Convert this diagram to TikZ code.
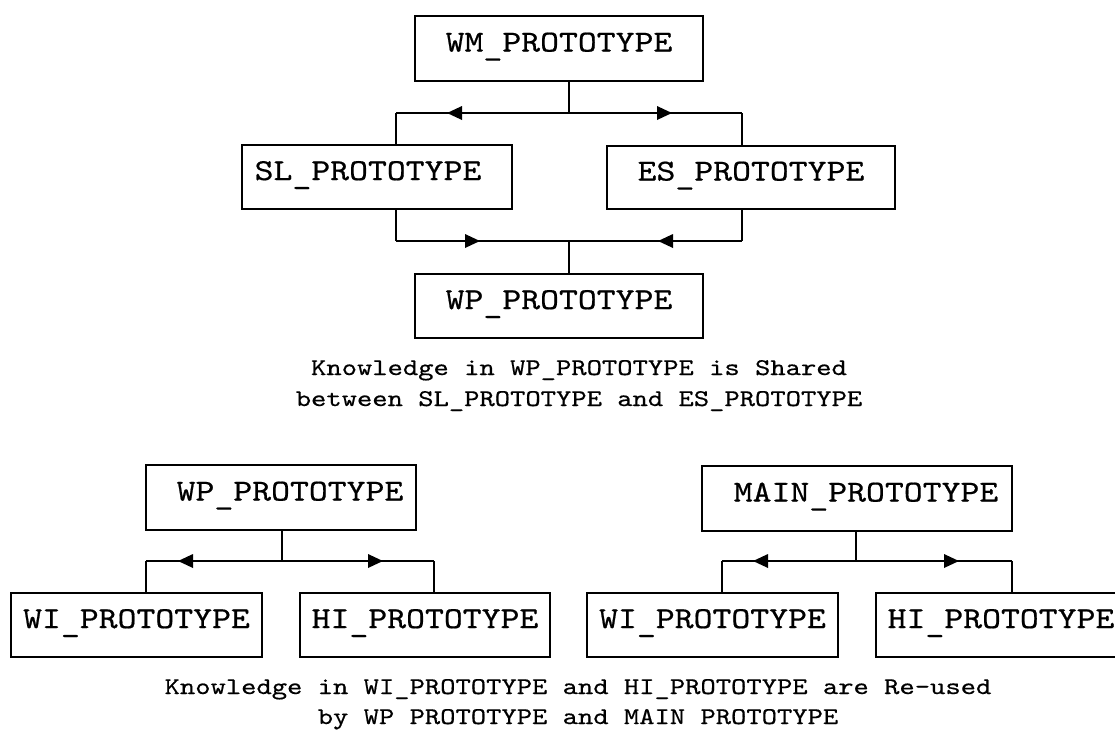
\documentclass[tikz,border=0pt]{standalone}
\usepackage{fontspec}
\newfontfamily\boxfont[FakeStretch=1.18,FakeBold=0.6]{lmmono10-regular.otf}
\newfontfamily\notefont[FakeStretch=1.215,FakeBold=0.5]{lmmono10-regular.otf}
% underscore set a little lower, as in the typewriter face of the original
\newcommand\us{\raisebox{-4pt}{\_}}
\newcommand\usn{\raisebox{-1pt}{\_}}
\usetikzlibrary{arrows.meta,decorations.markings}

\tikzset{
  box/.style={draw, line width=1.8pt, rectangle, inner sep=0pt,
    minimum height=64pt,
    font=\boxfont\fontsize{30.5pt}{34pt}\selectfont,
    text height=0.61em, text depth=0pt},
  conn/.style={line width=1.8pt},
  caption/.style={anchor=base, inner sep=0pt,
    font=\notefont\fontsize{24pt}{30pt}\selectfont},
  tipA/.tip={Triangle[length=15pt,width=13.5pt]},
  marks/.style 2 args={postaction={decorate}, decoration={markings,
    mark=at position #1 with {\arrowreversed{tipA}},
    mark=at position #2 with {\arrow{tipA}}}},
  marksr/.style 2 args={postaction={decorate}, decoration={markings,
    mark=at position #1 with {\arrow{tipA}},
    mark=at position #2 with {\arrowreversed{tipA}}}}
}

\begin{document}
\begin{tikzpicture}[x=1pt, y=-1pt]
  \fill[white] (0,0) rectangle (1115,732);
  \useasboundingbox (0,0) rectangle (1115,732);
  \clip (0,0) rectangle (1115,732);

  % upper diagram: shared knowledge
  \node[box, minimum width=288pt, minimum height=65pt] (wm) at (559,48.5) {WM\us PROTOTYPE};
  \node[box, minimum width=270pt] (sl) at (377,177) {SL\us PROTOTYPE\hspace*{18pt}};
  \node[box, minimum width=288pt, minimum height=63pt] (es) at (751,177.5) {ES\us PROTOTYPE};
  \node[box, minimum width=288pt] (wp) at (559,306) {WP\us PROTOTYPE};

  \coordinate (tj) at (569,113);
  \coordinate (tl) at (396,113);
  \coordinate (tr) at (742,113);
  \draw[conn] (wm.south -| tj) -- (tj);
  \draw[conn, marks={51pt}{276pt}] (tl) -- (tr);
  \draw[conn] (tl) -- (sl.north -| tl);
  \draw[conn] (tr) -- (es.north -| tr);

  \coordinate (mj) at (569,241);
  \coordinate (ml) at (396,241);
  \coordinate (mr) at (742,241);
  \draw[conn] (sl.south -| ml) -- (ml);
  \draw[conn] (es.south -| mr) -- (mr);
  \draw[conn, marksr={84pt}{262pt}] (ml) -- (mr);
  \draw[conn] (mj) -- (wp.north -| mj);

  \node[caption] (c1a) at (579,375) {Knowledge in WP\usn PROTOTYPE is Shared};
  \node[caption] (c1b) at (579,406) {between SL\usn PROTOTYPE and ES\usn PROTOTYPE};

  % lower left diagram
  \node[box, minimum width=270pt, minimum height=65pt] (wpb) at (281,497.5) {\hspace*{18pt}WP\us PROTOTYPE};
  \node[box, minimum width=251pt] (wia) at (136.5,625) {WI\us PROTOTYPE};
  \node[box, minimum width=250pt] (hia) at (425,625) {HI\us PROTOTYPE};

  \coordinate (lj) at (282,561);
  \coordinate (ll) at (146,561);
  \coordinate (lr) at (434,561);
  \draw[conn] (wpb.south -| lj) -- (lj);
  \draw[conn, marks={32pt}{237pt}] (ll) -- (lr);
  \draw[conn] (ll) -- (wia.north -| ll);
  \draw[conn] (lr) -- (hia.north -| lr);

  % lower right diagram
  \node[box, minimum width=310pt, minimum height=65pt] (mn) at (857,498.5) {\hspace*{18pt}MAIN\us PROTOTYPE};
  \node[box, minimum width=251pt] (wib) at (712.5,625) {WI\us PROTOTYPE};
  \node[box, minimum width=250pt] (hib) at (1001,625) {HI\us PROTOTYPE};

  \coordinate (rj) at (856,561);
  \coordinate (rl) at (722,561);
  \coordinate (rr) at (1012,561);
  \draw[conn] (mn.south -| rj) -- (rj);
  \draw[conn, marks={31pt}{237pt}] (rl) -- (rr);
  \draw[conn] (rl) -- (wib.north -| rl);
  \draw[conn] (rr) -- (hib.north -| rr);

  \node[caption] (c2a) at (578,694) {Knowledge in WI\usn PROTOTYPE and HI\usn PROTOTYPE are Re-used};
  \node[caption] (c2b) at (578,724) {by WP PROTOTYPE and MAIN PROTOTYPE};
\end{tikzpicture}
\end{document}
